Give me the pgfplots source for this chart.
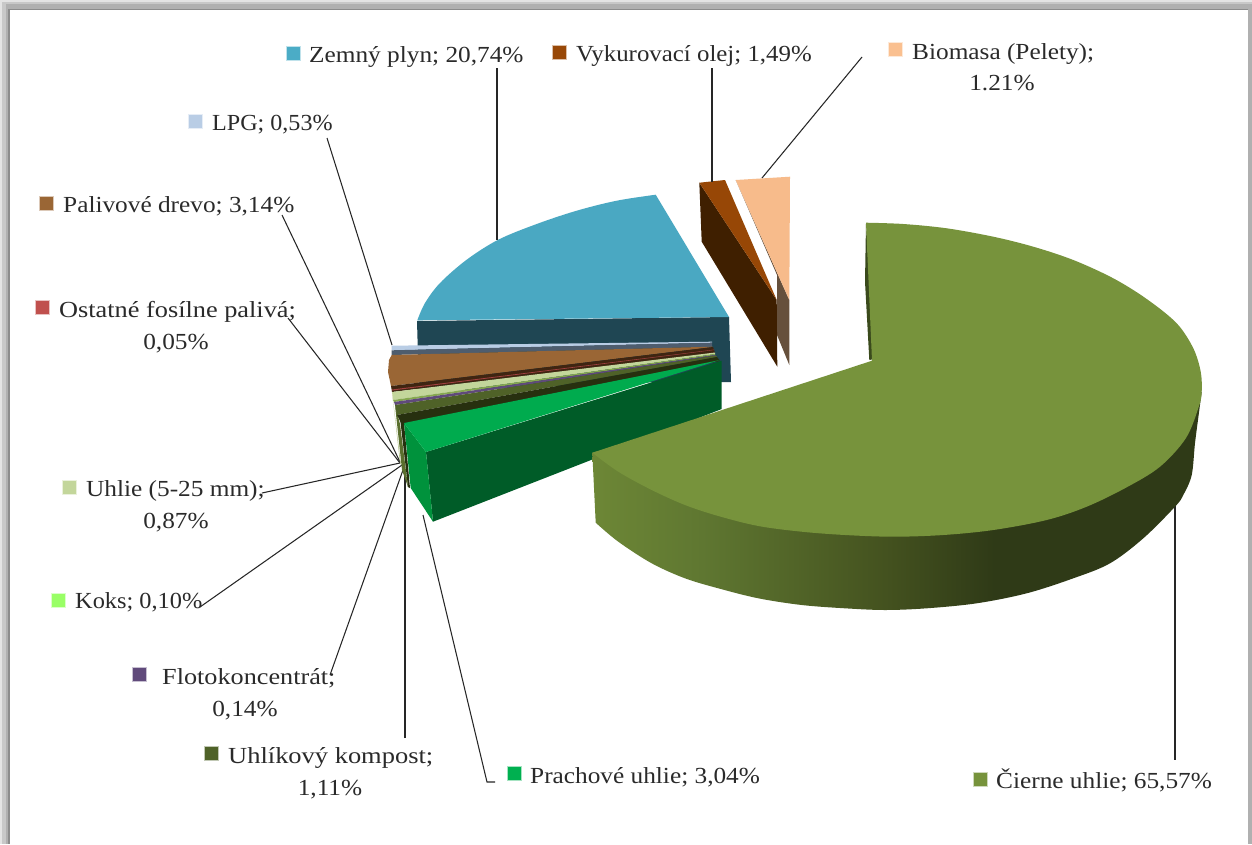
\documentclass[border=0pt]{standalone}
\usepackage{graphicx}
\usepackage{pgfplots}
\pgfplotsset{compat=1.18}
\usepackage{fontspec}
\setmainfont[FakeStretch=1.10]{Liberation Serif}
\definecolor{txt}{HTML}{2A2A2A}
\definecolor{ga}{HTML}{6D8736}
\definecolor{gl}{HTML}{5F7731}
\definecolor{gm}{HTML}{44521F}
\definecolor{gd}{HTML}{2F3A17}
\pgfdeclarehorizontalshading{bigside}{100bp}{color(0bp)=(ga); color(25bp)=(ga); color(34bp)=(gl); color(49bp)=(gm); color(58bp)=(gd); color(100bp)=(gd)}
\newcommand\polyc[2]{\definecolor{c#1}{HTML}{#1}\addplot[fill=c#1,draw=none] coordinates {#2} -- cycle;}
\newcommand\lead[1]{\addplot[draw=black!85,line width=1.05pt] coordinates {#1};}
\newcommand\lab[4][1]{\node[anchor=base west,text=txt,inner sep=0pt,font=\fontsize{23}{23}\selectfont] at (axis cs:#2,#3) {\scalebox{#1}[1]{#4}};}
\newcommand\labc[3]{\node[anchor=base,text=txt,inner sep=0pt,font=\fontsize{23}{23}\selectfont] at (axis cs:#1,#2) {#3};}
\newcommand\key[3]{\definecolor{c#1}{HTML}{#1}\addplot[fill=c#1,draw=c#1!35,line width=.9pt] coordinates {(#2,#3) ({#2+14},#3) ({#2+14},{#3+14}) (#2,{#3+14})} -- cycle;}
\begin{document}
\begin{tikzpicture}
\begin{axis}[width=1252pt,height=844pt,scale only axis,xmin=0,xmax=1252,ymin=0,ymax=844,y dir=reverse,hide axis,clip=true]
% frame
\polyc{E4E4E4}{(0,0) (1252,0) (1252,844) (0,844)}
\polyc{C8C8C8}{(2,2) (1252,2) (1252,844) (2,844)}
\polyc{B0B0B0}{(6,4) (1252,4) (1252,844) (6,844)}
\polyc{8C8C8C}{(8,8.5) (1248,8.5) (1248,844) (8,844)}
\polyc{FFFFFF}{(9.5,10) (1248,10) (1248,844) (9.5,844)}
% blue
\polyc{1F4653}{(417,321) (729,317) (731,382) (660,382) (419,392)}
\definecolor{cblue}{HTML}{4AA8C2}
\lead{(497,68) (497,240)}
\addplot[fill=cblue,draw=none,smooth,tension=.55] coordinates {(655.7,194.7) (616.7,200.7) (576.7,210.7) (536.7,224) (498.3,239.7) (466.7,259.7) (440,283) (425,303) (417.3,320.3)} -- (axis cs:729,317) -- cycle;
% biomasa
\polyc{66503C}{(735.7,180) (789.3,300) (789.3,365) (777,335) (777,275)}
\polyc{F7BB8B}{(735.7,180) (790,176.7) (789.3,300)}
% olej
\polyc{3F1F00}{(699.3,182.7) (776.7,300) (777.3,366.7) (701.7,241.7)}
\polyc{974706}{(699.3,182.7) (725,180) (776.7,300)}
% leaders
\lead{(712,68) (712,182)}
\lead{(862,57) (762,178)}
\lead{(327,138) (392,345)}
\lead{(282,215) (400,462)}
\lead{(288,318) (400,463)}
\lead{(262,493) (400,463)}
\lead{(200,607) (402,465)}
\lead{(330,675) (403,470)}
\lead{(405,738) (405,470)}
\lead{(495,782) (487,782) (423,515)}
% small stack
\polyc{B9CDE5}{(391.7,345.7) (712,341.7) (712,342.7) (391.7,350.3)}
\polyc{4E5D6E}{(391.7,350.3) (712,342.7) (712,346.7) (391.7,355)}
\polyc{9A6635}{(391.7,355) (389,360) (388,372) (391,386) (713,347) (712,346.7)}
\polyc{3F2511}{(391,386) (392,392) (715,353) (713,347)}
\polyc{A04040}{(392,389.5) (392,390.5) (714,350) (714,349.6)}
\polyc{B4C48C}{(392,392) (393,400) (401,465) (400,463)}
\polyc{C3D69B}{(392,392) (393,400) (715,354) (715,352.5)}
\polyc{86A850}{(393,400) (394,402) (715,355) (715,354)}
\polyc{604A7B}{(394,402) (395,405) (716,355.5) (715,355)}
\polyc{5A6F2E}{(395,405) (400,424) (408,487) (402,470)}
\polyc{4F6228}{(395,405) (397,415) (717,357) (716,355.5)}
\polyc{27300F}{(397,415) (401,423) (404,424) (720,361) (717,357)}
\polyc{27300F}{(400,418) (404,423) (410,488) (408,487)}
% prachove
\polyc{005C28}{(426,452) (721.7,360.7) (721.7,409) (433,521.7)}
\polyc{00923C}{(404,423) (426,452) (433,521.7) (410.7,488)}
\polyc{00AB4E}{(404,423) (720,360) (426,452)}
% big slice
\lead{(1175,505) (1175,760)}
\polyc{3A4A1C}{(866,223) (874,359) (869.3,360) (865,281.7)}
\addplot[shading=bigside,draw=none,smooth,tension=.55] coordinates {(595.7,522.7) (618.3,541.7) (651.7,563.3) (685,578.3) (718.3,588.3) (758.3,598.3) (801.7,605) (845,608.3) (885,610) (926.7,608.3) (976.7,603.3) (1026.7,593.3) (1073.3,578.3) (1110,563.3) (1143.3,538.3) (1175,506.7) (1183.3,495) (1191.7,475) (1195,443) (1199.3,410) (1201.7,391.7)} -- (axis cs:592.3,452.7) -- cycle;
\definecolor{cbig}{HTML}{77933C}
\addplot[fill=cbig,draw=none,smooth,tension=.55] coordinates {(866,222.7) (903.3,224) (946.7,228.3) (993.3,236.7) (1033.3,246.7) (1073.3,260) (1113.3,278.3) (1146.7,299) (1176.7,323.3) (1193.3,348.3) (1200.7,371.7) (1201.7,391.7) (1199,406) (1186,438) (1160,466.7) (1126.7,487.3) (1086.7,506.7) (1046.7,520) (993.3,530) (943.3,535) (893.3,536.7) (845,535) (801.7,531.7) (758.3,526) (718.3,516) (685,505) (651.7,490) (618.3,471.7) (592.3,452.7)} -- (axis cs:872,360.7) -- cycle;
% keys
\key{4BACC6}{286}{46}
\key{984807}{552}{45}
\key{FAC090}{888}{42}
\key{B9CDE5}{188}{114}
\key{9A6635}{39}{196}
\key{C0504D}{35}{300}
\key{C3D69B}{62}{480}
\key{99FF66}{51}{593}
\key{604A7B}{132}{667}
\key{4F6228}{204}{746}
\key{00B050}{507}{766}
\key{77933C}{973}{772}
% labels
\lab{309}{62}{Zemný plyn; 20,74\%}
\lab[.983]{576}{61}{Vykurovací olej; 1,49\%}
\lab{912}{59}{Biomasa (Pelety);}
\labc{1002}{90}{1.21\%}
\lab[.952]{212}{130}{LPG; 0,53\%}
\lab{63}{212}{Palivové drevo; 3,14\%}
\lab[1.04]{59}{317}{Ostatné fosílne palivá;}
\labc{176}{349}{0,05\%}
\lab{86}{496}{Uhlie (5-25 mm);}
\labc{176}{528}{0,87\%}
\lab[.962]{75}{608}{Koks; 0,10\%}
\lab[1.036]{162}{684}{Flotokoncentrát;}
\labc{245}{716}{0,14\%}
\lab[1.046]{228}{763}{Uhlíkový kompost;}
\labc{330}{795}{1,11\%}
\lab{530}{783}{Prachové uhlie; 3,04\%}
\lab{996}{788}{Čierne uhlie; 65,57\%}
\end{axis}
\end{tikzpicture}
\end{document}
